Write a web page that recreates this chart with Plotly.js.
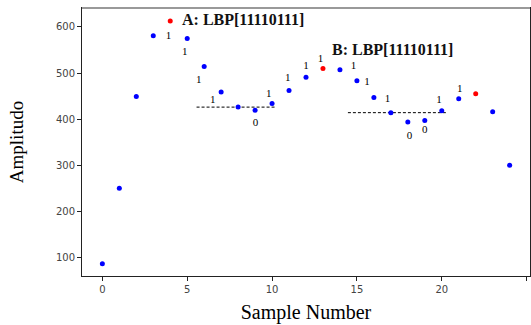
<!DOCTYPE html>
<html>
<head>
<meta charset="utf-8">
<script src="https://cdn.plot.ly/plotly-3.0.1.min.js"></script>
<style>html,body{margin:0;padding:0;background:#fff;}#chart{width:531px;height:325px;}</style>
</head>
<body>
<div id="chart"></div>
<script>
// Sample amplitudes
const sampleX = [0,1,2,3,4,5,6,7,8,9,10,11,12,13,14,15,16,17,18,19,20,21,22,23,24];
const amplitude = [86,250,449,581,613,575,514,459,426,419,434,462,491,510,507,483,447,414,394,397,418,444,455,416,300];
// Highlighted (center) samples
const centerIdx = [4,13,22];

// Binary labels
const labelX = [3.9,4.86,5.68,6.5,9.03,9.8,10.93,12.0,12.86,14.8,15.6,16.8,18.1,19.0,19.84,21.06];
const labelY = [579,544,484,440,392,455,488,515,530,514,479,444,362,375,440,465];
const labelText = ['1','1','1','1','0','1','1','1','1','1','1','1','0','0','1','1'];

// Threshold dashed lines
const threshA = {x: [5.55, 10.2], y: [426, 426]};
const threshB = {x: [14.47, 20.24], y: [414, 414]};

// Annotation texts
const annoText = ['A: LBP[11110111]', 'B: LBP[11110111]'];
const annoX = [4.6, 13.4];
const annoY = [617, 551];

const colors = sampleX.map((v,i) => centerIdx.includes(i) ? '#ff0000' : '#0000ff');

const traces = [
  {x: threshA.x, y: threshA.y, mode: 'lines', line: {color: '#000', width: 1, dash: '3px,2px'}, hoverinfo: 'skip'},
  {x: threshB.x, y: threshB.y, mode: 'lines', line: {color: '#000', width: 1, dash: '3px,2px'}, hoverinfo: 'skip'},
  {x: sampleX, y: amplitude, mode: 'markers', marker: {color: colors, size: 5}},
  {x: labelX, y: labelY, text: labelText, mode: 'text', textposition: 'middle center',
   textfont: {family: 'Liberation Serif, Times New Roman, serif', size: 11, color: '#000'}}
];

const layout = {
  width: 531, height: 325,
  margin: {l: 82, r: 1, t: 8, b: 49},
  paper_bgcolor: '#fff', plot_bgcolor: '#fff',
  showlegend: false,
  xaxis: {
    range: [-1.2, 25.2], tickvals: [0,5,10,15,20,25], ticktext: ['0','5','10','15','20','25'],
    showgrid: false, zeroline: false, showline: true, mirror: true, linecolor: '#222', linewidth: 1,
    ticks: 'outside', ticklen: 4, tickcolor: '#222',
    tickfont: {family: 'DejaVu Sans, sans-serif', size: 10, color: '#444'},
    title: {text: 'Sample Number', standoff: 10, font: {family: 'Liberation Serif, Times New Roman, serif', size: 20, color: '#000'}}
  },
  yaxis: {
    range: [59.7, 641], tickvals: [100,200,300,400,500,600],
    showgrid: false, zeroline: false, showline: true, mirror: true, linecolor: '#222', linewidth: 1,
    ticks: 'outside', ticklen: 4, tickcolor: '#222',
    tickfont: {family: 'DejaVu Sans, sans-serif', size: 10, color: '#444'},
    title: {text: 'Amplitudo', standoff: 27, font: {family: 'Liberation Serif, Times New Roman, serif', size: 19, color: '#000'}}
  },
  shapes: [
    {type: 'line', xref: 'paper', yref: 'paper', x0: 0, x1: 1, y0: 1, y1: 1, line: {color: '#999', width: 2}}
  ],
  annotations: annoText.map((t, i) => ({
    x: annoX[i], y: annoY[i], xref: 'x', yref: 'y', text: '<b>' + t + '</b>', showarrow: false,
    xanchor: 'left', yanchor: 'middle',
    font: {family: 'Liberation Serif, Times New Roman, serif', size: 16, color: '#111'}
  }))
};

Plotly.newPlot('chart', traces, layout, {displayModeBar: false, staticPlot: true});
</script>
</body>
</html>
